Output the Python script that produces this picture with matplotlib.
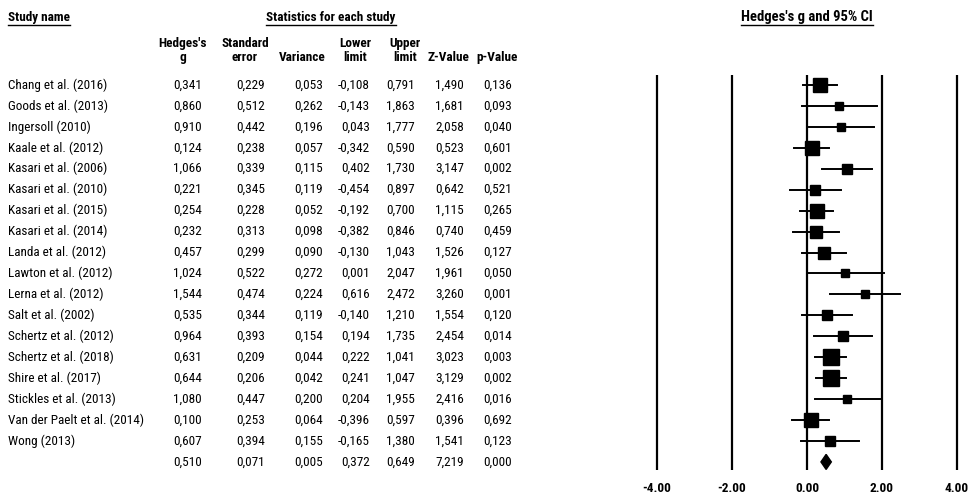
import matplotlib

matplotlib.use("Agg")

import matplotlib.pyplot as plt
import numpy as np
from matplotlib.patches import Polygon
from matplotlib.lines import Line2D

plt.rcParams["font.family"] = ["Roboto Condensed", "Liberation Sans", "DejaVu Sans"]

# 各研究的效应量统计
study_names = [
    "Chang et al. (2016)", "Goods et al. (2013)", "Ingersoll (2010)", "Kaale et al. (2012)",
    "Kasari et al. (2006)", "Kasari et al. (2010)", "Kasari et al. (2015)", "Kasari et al. (2014)",
    "Landa et al. (2012)", "Lawton et al. (2012)", "Lerna et al. (2012)", "Salt et al. (2002)",
    "Schertz et al. (2012)", "Schertz et al. (2018)", "Shire et al. (2017)", "Stickles et al. (2013)",
    "Van der Paelt et al. (2014)", "Wong (2013)",
]
hedges_g = [0.341, 0.860, 0.910, 0.124, 1.066, 0.221, 0.254, 0.232, 0.457,
            1.024, 1.544, 0.535, 0.964, 0.631, 0.644, 1.080, 0.100, 0.607]
std_error = [0.229, 0.512, 0.442, 0.238, 0.339, 0.345, 0.228, 0.313, 0.299,
             0.522, 0.474, 0.344, 0.393, 0.209, 0.206, 0.447, 0.253, 0.394]
variance = [0.053, 0.262, 0.196, 0.057, 0.115, 0.119, 0.052, 0.098, 0.090,
            0.272, 0.224, 0.119, 0.154, 0.044, 0.042, 0.200, 0.064, 0.155]
lower_limit = [-0.108, -0.143, 0.043, -0.342, 0.402, -0.454, -0.192, -0.382, -0.130,
               0.001, 0.616, -0.140, 0.194, 0.222, 0.241, 0.204, -0.396, -0.165]
upper_limit = [0.791, 1.863, 1.777, 0.590, 1.730, 0.897, 0.700, 0.846, 1.043,
               2.047, 2.472, 1.210, 1.735, 1.041, 1.047, 1.955, 0.597, 1.380]
z_value = [1.490, 1.681, 2.058, 0.523, 3.147, 0.642, 1.115, 0.740, 1.526,
           1.961, 3.260, 1.554, 2.454, 3.023, 3.129, 2.416, 0.396, 1.541]
p_value = [0.136, 0.093, 0.040, 0.601, 0.002, 0.521, 0.265, 0.459, 0.127,
           0.050, 0.001, 0.120, 0.014, 0.003, 0.002, 0.016, 0.692, 0.123]

# 合并效应
summary_stats = [0.510, 0.071, 0.005, 0.372, 0.649, 7.219, 0.000]

x_ticks = [-4, -2, 0, 2, 4]
x_tick_labels = ["-4.00", "-2.00", "0.00", "2.00", "4.00"]

col_headers = [("Hedges's", "g"), ("Standard", "error"), ("", "Variance"), ("Lower", "limit"),
               ("Upper", "limit"), ("", "Z-Value"), ("", "p-Value")]

W, H = 970, 496
fig = plt.figure(figsize=(W / 100, H / 100), dpi=100)

row0_px, row_step = 85, 20.94


def px_to_row(p):
    return (p - row0_px) / row_step


top_px, bot_px = 75, 470
y_lim = (px_to_row(bot_px), px_to_row(top_px))

# 右侧森林图
ax = fig.add_axes([645 / W, 1 - bot_px / H, 324 / W, (bot_px - top_px) / H])
ax.set_xlim(-4.32, 4.32)
ax.set_ylim(*y_lim)
for s in ax.spines.values():
    s.set_visible(False)
for xv in x_ticks:
    ax.axvline(xv, color="black", lw=1.6, zorder=1)
ax.set_xticks(x_ticks)
ax.set_xticklabels(x_tick_labels, fontsize=9.5, fontweight="bold")
ax.tick_params(axis="x", length=0, pad=8.5)
ax.set_yticks([])

var_arr = np.array(variance)
weights = 1.0 / (var_arr + 0.03)
box_size = 11.0 * np.sqrt(weights / weights.max())

for i in range(len(study_names)):
    ax.plot([lower_limit[i], upper_limit[i]], [i, i], color="black", lw=1.4, zorder=2)
    ax.plot(hedges_g[i], i, marker="s", color="black", markersize=box_size[i], zorder=3)

g_sum, lo_sum, hi_sum = summary_stats[0], summary_stats[3], summary_stats[4]
ys = len(study_names)
diamond = Polygon([[lo_sum, ys], [g_sum, ys - 0.36], [hi_sum, ys], [g_sum, ys + 0.36]],
                  closed=True, color="black", zorder=3)
ax.add_patch(diamond)

# 左侧统计表
tx = fig.add_axes([0, 1 - bot_px / H, 640 / W, (bot_px - top_px) / H])
tx.set_xlim(0, 640)
tx.set_ylim(*y_lim)
tx.axis("off")

fs = 9.5
col_right = [202, 265, 323, 370, 415, 464, 512]
col_center = [183, 245, 302, 355, 405, 448, 497]


def fmt(v):
    return f"{v:.3f}".replace(".", ",")


columns = [hedges_g, std_error, variance, lower_limit, upper_limit, z_value, p_value]
for i, name in enumerate(study_names):
    tx.text(8, i, name, fontsize=fs, va="center", ha="left", clip_on=False)
    for c, vals in enumerate(columns):
        tx.text(col_right[c], i, fmt(vals[i]), fontsize=fs, va="center", ha="right", clip_on=False)
for c, v in enumerate(summary_stats):
    tx.text(col_right[c], ys, fmt(v), fontsize=fs, va="center", ha="right", clip_on=False)

for c, (l1, l2) in enumerate(col_headers):
    if l1:
        tx.text(col_center[c], px_to_row(44), l1, fontsize=fs, fontweight="bold",
                ha="center", va="center", clip_on=False)
    tx.text(col_center[c], px_to_row(58), l2, fontsize=fs, fontweight="bold",
            ha="center", va="center", clip_on=False)

titles = [
    fig.text(8 / W, 1 - 17 / H, "Study name", fontsize=fs, fontweight="bold", ha="left", va="center"),
    fig.text(331 / W, 1 - 17 / H, "Statistics for each study", fontsize=fs, fontweight="bold",
             ha="center", va="center"),
    fig.text(807 / W, 1 - 17 / H, "Hedges's g and 95% CI", fontsize=10.5, fontweight="bold",
             ha="center", va="center"),
]

# 标题下划线
fig.canvas.draw()
renderer = fig.canvas.get_renderer()
for t in titles:
    bb = t.get_window_extent(renderer)
    y_line = bb.y0 - 1
    fig.add_artist(Line2D([bb.x0 / W, bb.x1 / W], [y_line / H, y_line / H],
                          color="black", lw=1.0, transform=fig.transFigure))

fig.savefig("out.png", dpi=100)
